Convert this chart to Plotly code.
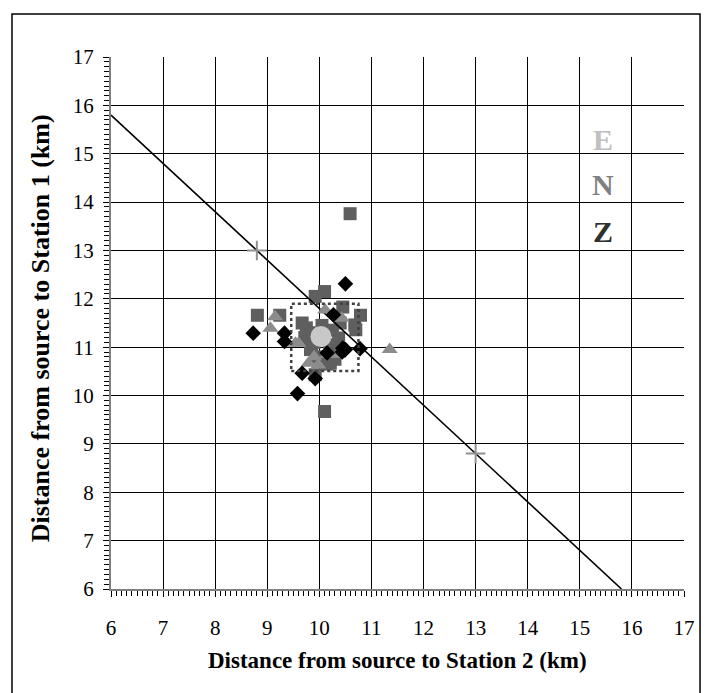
import plotly.graph_objects as go

# ---- data ----
sq_x = [10.59, 10.10, 9.92, 8.81, 9.24, 10.45, 10.79, 10.68, 10.70, 10.10, 9.67, 9.83, 10.21, 9.92,
        10.37, 9.80, 9.90, 10.25, 10.20, 9.95, 10.30, 10.05, 9.72, 10.40, 9.85, 10.15, 9.75, 10.30]
sq_y = [13.76, 12.15, 12.05, 11.66, 11.66, 11.83, 11.66, 11.46, 11.36, 9.67, 11.50, 10.95, 10.67, 10.43,
        11.19, 11.30, 11.10, 11.35, 11.00, 10.80, 10.75, 11.45, 11.20, 11.50, 11.00, 10.65, 11.40, 11.05]

tri_x = [9.06, 9.15, 11.35, 9.54, 9.79, 9.98, 10.11, 10.43, 10.15, 10.35, 9.60, 9.90]
tri_y = [11.39, 11.63, 10.95, 11.08, 10.67, 10.63, 11.77, 11.60, 10.85, 10.85, 11.08, 10.80]

dia_x = [10.50, 8.73, 9.33, 9.33, 10.27, 10.50, 10.78, 9.67, 9.92, 9.58, 10.15, 10.44, 10.45]
dia_y = [12.31, 11.29, 11.29, 11.12, 11.67, 10.95, 10.97, 10.46, 10.35, 10.04, 10.88, 10.90, 10.98]

mean_x = [10.03]
mean_y = [11.22]

line_x = [6.0, 15.8]
line_y = [15.8, 6.0]

plus_x = [8.8, 13.0]
plus_y = [13.0, 8.8]

box_x = [9.46, 10.75]
box_y = [10.51, 11.90]

legend_labels = ["E", "N", "Z"]
legend_colors = ["#c0c0c0", "#808080", "#303030"]
legend_x = [15.45, 15.45, 15.45]
legend_y = [15.29, 14.36, 13.40]

axis_ticks = list(range(6, 18))

FONT = "Liberation Serif"

fig = go.Figure()
fig.add_trace(go.Scatter(x=sq_x, y=sq_y, mode="markers",
                         marker=dict(symbol="square", size=13, color="#5f5f5f"), showlegend=False))
fig.add_trace(go.Scatter(x=line_x, y=line_y, mode="lines",
                         line=dict(color="black", width=1.6), showlegend=False))
fig.add_trace(go.Scatter(x=tri_x, y=tri_y, mode="markers",
                         marker=dict(symbol="triangle-up", size=14, color="#8c8c8c"), showlegend=False))
fig.add_trace(go.Scatter(x=dia_x, y=dia_y, mode="markers",
                         marker=dict(symbol="diamond", size=12, color="black"), showlegend=False))
fig.add_trace(go.Scatter(x=mean_x, y=mean_y, mode="markers",
                         marker=dict(symbol="circle", size=21, color="#c8c8c8"), showlegend=False))
fig.add_trace(go.Scatter(x=plus_x, y=plus_y, mode="markers",
                         marker=dict(symbol="cross-thin", size=14,
                                     line=dict(color="#909090", width=2)), showlegend=False))

fig.add_shape(type="rect", xref="x", yref="y", x0=box_x[0], x1=box_x[1], y0=box_y[0], y1=box_y[1],
              line=dict(color="#404040", width=2.5, dash="dot"), layer="above")

# outer border
fig.add_shape(type="rect", xref="paper", yref="paper", x0=-0.1728, x1=1.028, y0=-0.25, y1=1.0808,
              line=dict(color="black", width=1.5), layer="above")

for t, c, lx, ly in zip(legend_labels, legend_colors, legend_x, legend_y):
    fig.add_annotation(x=lx, y=ly, xref="x", yref="y", text="<b>%s</b>" % t, showarrow=False,
                       font=dict(family=FONT, size=30, color=c))

fig.add_annotation(x=0.5, y=-0.1335, xref="paper", yref="paper", showarrow=False,
                   text="<b>Distance from source to Station 2 (km)</b>",
                   font=dict(family=FONT, size=23, color="black"), yanchor="middle")
fig.add_annotation(x=-0.1239, y=0.49, xref="paper", yref="paper", showarrow=False, textangle=-90,
                   text="<b>Distance from source to Station 1 (km)</b>",
                   font=dict(family=FONT, size=26, color="black"), xanchor="center")

axis_common = dict(range=[6, 17], tickmode="array", tickvals=axis_ticks,
                   ticktext=[str(v) for v in axis_ticks],
                   showgrid=True, gridcolor="black", gridwidth=1,
                   showline=True, linecolor="#808080", linewidth=2,
                   ticks="outside", ticklen=6, tickcolor="black", tickwidth=1,
                   minor=dict(dtick=0.1, ticks="outside", ticklen=5, tickcolor="black",
                              tickwidth=1, showgrid=False),
                   tickfont=dict(family=FONT, size=21, color="black"),
                   zeroline=False, fixedrange=True)

fig.update_xaxes(**axis_common, ticklabelstandoff=13)
fig.update_yaxes(**axis_common, ticklabelstandoff=5)

fig.update_layout(width=706, height=693, margin=dict(l=111, r=22, t=57, b=104, autoexpand=False),
                  paper_bgcolor="white", plot_bgcolor="white", showlegend=False)

fig.write_html("out.html")
